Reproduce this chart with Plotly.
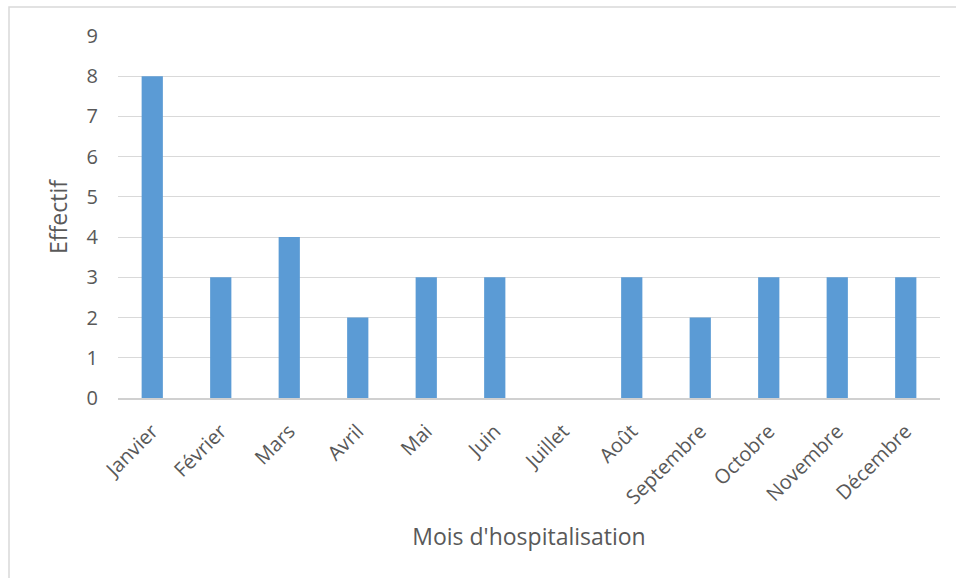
import plotly.graph_objects as go

months = ["Janvier", "Février", "Mars", "Avril", "Mai", "Juin", "Juillet",
          "Août", "Septembre", "Octobre", "Novembre", "Décembre"]
effectif = [8, 3, 4, 2, 3, 3, 0, 3, 2, 3, 3, 3]
y_ticks = list(range(0, 10))

L, R, T, B = 118, 16, 36, 180
W, H = 956, 578
pw, ph = W - L - R, H - T - B

fig = go.Figure(go.Bar(x=months, y=effectif, marker=dict(color="#5B9BD5", line=dict(width=0))))

font = "Open Sans, Segoe UI, sans-serif"
fig.update_layout(
    width=W, height=H,
    margin=dict(l=L, r=R, t=T, b=B),
    paper_bgcolor="white", plot_bgcolor="white",
    bargap=0.69,
    showlegend=False,
    font=dict(family=font, color="#595959", size=20),
    xaxis=dict(
        tickangle=-45, showgrid=False, ticks="",
        showline=True, linecolor="#d0d0d0", linewidth=1.5,
        ticklabelstandoff=12,
        tickfont=dict(size=20, color="#595959"),
        title=dict(text="Mois d'hospitalisation", font=dict(size=23, color="#595959"), standoff=20),
    ),
    yaxis=dict(
        range=[0, 9], tickvals=y_ticks, ticks="",
        showgrid=True, gridcolor="#d9d9d9", gridwidth=1.2,
        zeroline=False, showline=False,
        ticklabelstandoff=19,
        tickfont=dict(size=20, color="#595959"),
        title=dict(text="Effectif", font=dict(size=23, color="#595959"), standoff=12),
    ),
    shapes=[dict(
        type="rect", xref="paper", yref="paper",
        x0=(9 - L) / pw, x1=(W + 5 - L) / pw,
        y0=(H - B - (H + 5)) / ph, y1=(H - B - 7) / ph,
        line=dict(color="#d9d9d9", width=1.5), fillcolor="rgba(0,0,0,0)", layer="below",
    )],
)

fig.write_html("out.html")
